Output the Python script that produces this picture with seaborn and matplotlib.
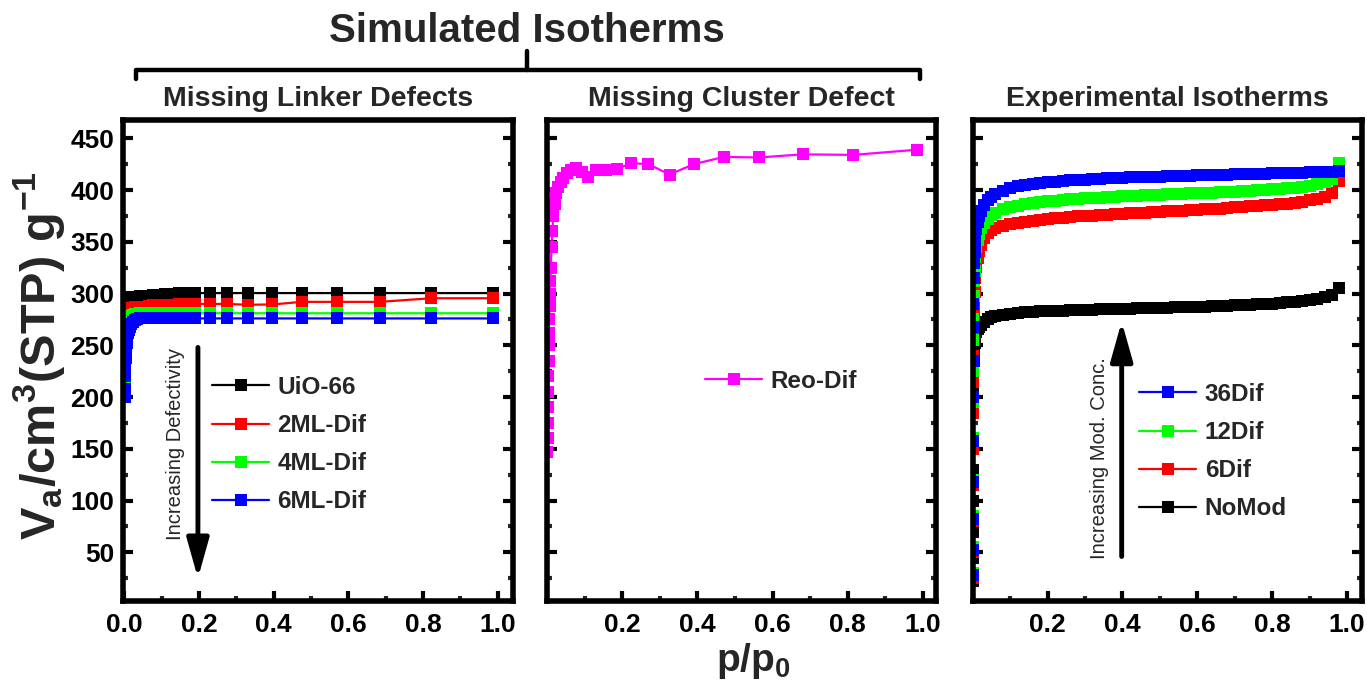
import matplotlib
matplotlib.use("Agg")
import matplotlib.pyplot as plt
import seaborn as sns
from matplotlib.lines import Line2D

# ---------------- data ----------------
# Missing linker defects (simulated)
P_ML = [0.0005, 0.001, 0.002, 0.003, 0.004, 0.005, 0.0065, 0.008, 0.01, 0.012,
        0.015, 0.018, 0.022, 0.028, 0.035, 0.042, 0.054, 0.065, 0.077, 0.092,
        0.108, 0.12, 0.131, 0.145, 0.157, 0.172, 0.189, 0.229, 0.274, 0.330,
        0.396, 0.475, 0.570, 0.684, 0.821, 0.987]
UIO66 = [280, 284, 288, 290.5, 292, 293, 294, 294.5, 295, 295.5,
         296, 296.3, 296.5, 296.8, 297, 297.2, 297.5, 298, 298.5, 299,
         299.5, 299.8, 300, 300.2, 300.4, 300.5, 300.5, 300.5, 300.5, 300.5,
         300.5, 300.5, 300.5, 300.5, 300.5, 300.5]
ML2 = [272, 276, 279, 281, 282, 283, 284, 284.5, 285, 285.5,
       286, 286.3, 286.5, 286.8, 287, 287.2, 287.5, 288, 288.5, 288.8,
       289, 289.2, 289.4, 289.6, 289.8, 289.9, 290, 290, 290, 289.2,
       289.5, 292, 292, 292, 295.5, 295.5]
ML4 = [205, 213, 235, 250, 258, 263, 267, 270, 273, 275,
       277, 278.5, 279.5, 280.2, 280.6, 281, 281, 281, 281, 281,
       281, 281, 281, 281, 281, 281, 281, 281, 281, 281,
       281, 281, 281, 281, 281, 281]
ML6 = [200, 208, 220, 230, 238, 245, 252, 257, 262, 265,
       268, 270.5, 272.5, 274.5, 275.5, 276, 276, 276, 276, 276,
       276, 276, 276, 276, 276, 276, 276, 276, 276, 276,
       276, 276, 276, 276, 276, 276]
ML_LABELS = ["UiO-66", "2ML-Dif", "4ML-Dif", "6ML-Dif"]

# Missing cluster defect (simulated)
P_REO = [0.001, 0.0015, 0.002, 0.0025, 0.003, 0.0035, 0.004, 0.0045, 0.005, 0.006,
         0.007, 0.008, 0.009, 0.01, 0.012, 0.014, 0.017, 0.02, 0.025, 0.03,
         0.036, 0.042, 0.054, 0.065, 0.077, 0.092, 0.108, 0.131, 0.157, 0.187,
         0.224, 0.270, 0.326, 0.390, 0.470, 0.563, 0.680, 0.815, 0.985]
REO = [147, 160, 175, 190, 205, 220, 235, 250, 262, 275,
       288, 300, 312, 325, 345, 360, 375, 387, 397, 403,
       408, 412, 416.5, 419, 421.5, 417, 413, 419.5, 419, 420.5,
       426, 425, 415, 425, 432, 431.5, 434.5, 434, 439]
REO_LABEL = "Reo-Dif"

# Experimental isotherms
P_EXP = [0.00002, 0.00005, 0.0001, 0.0002, 0.0004, 0.0007, 0.001, 0.0015, 0.002, 0.003,
         0.004, 0.005, 0.007, 0.01, 0.013, 0.017, 0.022, 0.03, 0.04, 0.05,
         0.06, 0.08, 0.10, 0.12, 0.14, 0.16, 0.18, 0.20, 0.22, 0.24,
         0.26, 0.28, 0.30, 0.32, 0.34, 0.36, 0.38, 0.40, 0.42, 0.44,
         0.46, 0.48, 0.50, 0.52, 0.54, 0.56, 0.58, 0.60, 0.62, 0.64,
         0.66, 0.68, 0.70, 0.72, 0.74, 0.76, 0.78, 0.80, 0.82, 0.84,
         0.86, 0.88, 0.90, 0.92, 0.94, 0.96, 0.978]
NOMOD = [22, 45, 70, 100, 130, 160, 185, 205, 220, 235,
         245, 252, 258, 263, 266, 268, 270, 273, 275.5, 277,
         278, 279.5, 280.5, 281.2, 281.8, 282.3, 282.7, 283, 283.3, 283.6,
         283.9, 284.1, 284.3, 284.5, 284.7, 284.9, 285.1, 285.3, 285.5, 285.6,
         285.8, 286, 286.2, 286.4, 286.6, 286.8, 287, 287.2, 287.4, 287.6,
         287.9, 288.2, 288.5, 288.8, 289.1, 289.5, 289.9, 290.4, 290.9, 291.5,
         292.2, 293, 294, 295.2, 296.8, 299, 305]
DIF6 = [25, 50, 80, 115, 150, 185, 215, 240, 260, 280,
        292, 302, 315, 326, 334, 341, 347, 354, 358.5, 361.5,
        363.5, 365.5, 367, 368.3, 369.5, 370.5, 371.4, 372.2, 372.9, 373.5,
        374, 374.5, 375, 375.4, 375.8, 376.2, 376.6, 377, 377.4, 377.8,
        378.2, 378.6, 379, 379.4, 379.8, 380.2, 380.6, 381, 381.4, 381.8,
        382.2, 382.7, 383.2, 383.7, 384.2, 384.7, 385.2, 385.8, 386.4, 387,
        387.8, 388.8, 390, 391.5, 393.5, 397, 409]
DIF12 = [30, 55, 85, 120, 160, 195, 225, 255, 275, 298,
         312, 322, 335, 345, 352, 358, 363, 368.5, 372.5, 375.5,
         378, 381.5, 383.5, 385, 386.3, 387.4, 388.3, 389.1, 389.8, 390.4,
         391, 391.5, 392, 392.4, 392.8, 393.2, 393.6, 394, 394.3, 394.6,
         394.9, 395.2, 395.5, 395.8, 396.1, 396.4, 396.7, 397, 397.3, 397.6,
         397.9, 398.2, 398.5, 398.9, 399.3, 399.7, 400.1, 400.6, 401.1, 401.7,
         402.4, 403.2, 404.2, 405.5, 407.5, 411, 426]
DIF36 = [28, 52, 82, 118, 158, 200, 235, 268, 290, 315,
         330, 340, 352, 362, 369, 375, 380, 385.5, 390, 393.5,
         396, 399.5, 402, 403.7, 405, 406, 406.9, 407.6, 408.2, 408.8,
         409.3, 409.8, 410.2, 410.6, 411, 411.3, 411.6, 411.9, 412.2, 412.5,
         412.7, 412.9, 413.1, 413.3, 413.5, 413.7, 413.9, 414.1, 414.3, 414.5,
         414.7, 414.9, 415.1, 415.3, 415.5, 415.7, 415.9, 416.1, 416.3, 416.5,
         416.7, 416.9, 417.1, 417.3, 417.5, 417.8, 418]
EXP_LABELS = ["NoMod", "6Dif", "12Dif", "36Dif"]

X_TICKS_FULL = [0.0, 0.2, 0.4, 0.6, 0.8, 1.0]
X_TICKS_PART = [0.2, 0.4, 0.6, 0.8, 1.0]
X_MINOR = [0.1, 0.3, 0.5, 0.7, 0.9]
Y_TICKS = [50, 100, 150, 200, 250, 300, 350, 400, 450]
Y_MINOR = [25, 75, 125, 175, 225, 275, 325, 375, 425]

PANEL_TITLES = ["Missing Linker Defects", "Missing Cluster Defect", "Experimental Isotherms"]
SUPER_TITLE = "Simulated Isotherms"
ARROW_TEXT_1 = "Increasing Defectivity"
ARROW_TEXT_3 = "Increasing Mod. Conc."

# ---------------- style ----------------
sns.set_theme(style="ticks")
plt.rcParams["font.family"] = ["Liberation Sans", "DejaVu Sans"]
plt.rcParams["font.weight"] = "bold"
plt.rcParams["mathtext.fontset"] = "custom"
plt.rcParams["mathtext.rm"] = "Liberation Sans:bold"
plt.rcParams["mathtext.bf"] = "Liberation Sans:bold"
plt.rcParams["mathtext.it"] = "Liberation Sans:bold"
plt.rcParams["legend.numpoints"] = 1

BLACK, RED, GREEN, BLUE, MAGENTA = "#000000", "#ff0000", "#00ff00", "#0000ff", "#ff00ff"

W, H = 1367, 685
fig = plt.figure(figsize=(W / 100, H / 100), dpi=100)


def fx(px):
    return px / W


def fy(py):
    return 1 - py / H


AX_LR = [(122.5, 512.7), (547, 936), (972.7, 1362)]
AX_TOP, AX_BOT = 119.7, 601
axes = [fig.add_axes([fx(l), fy(AX_BOT), fx(r) - fx(l), (AX_BOT - AX_TOP) / H]) for l, r in AX_LR]
XLIMS = [(-0.005, 1.04), (0.0, 1.035), (0.0, 1.04)]

LINE_KW = dict(marker="s", markersize=8, markeredgewidth=0, linewidth=1.6,
               estimator=None, sort=False)


def draw(ax, x, y, color, label):
    sns.lineplot(x=x, y=y, ax=ax, color=color, label=label, **LINE_KW)


ax1, ax2, ax3 = axes
for vals, col, lab in zip([UIO66, ML2, ML4, ML6], [BLACK, RED, GREEN, BLUE], ML_LABELS):
    draw(ax1, P_ML, vals, col, lab)
draw(ax2, P_REO, REO, MAGENTA, REO_LABEL)
for vals, col, lab in zip([NOMOD, DIF6, DIF12, DIF36], [BLACK, RED, GREEN, BLUE], EXP_LABELS):
    draw(ax3, P_EXP, vals, col, lab)

for i, ax in enumerate(axes):
    ax.set_xlim(*XLIMS[i])
    ax.set_ylim(3, 468)
    ax.set_xlabel("")
    ax.set_ylabel("")
    ax.set_xticks(X_TICKS_FULL if i == 0 else X_TICKS_PART)
    ax.set_xticks(X_MINOR, minor=True)
    ax.set_yticks(Y_TICKS)
    ax.set_yticks(Y_MINOR, minor=True)
    for s in ax.spines.values():
        s.set_visible(True)
        s.set_linewidth(4)
        s.set_color("black")
    ax.tick_params(which="major", direction="in", length=7, width=3, top=False,
                   right=True, left=True, bottom=True, labelsize=19, colors="black")
    ax.tick_params(axis="x", which="major", pad=9)
    ax.tick_params(axis="y", which="major", pad=6)
    ax.tick_params(which="minor", direction="in", length=3.5, width=3, top=False,
                   right=True, left=True, bottom=True)
    if i > 0:
        ax.tick_params(labelleft=False)
    ax.xaxis.set_major_formatter(matplotlib.ticker.FormatStrFormatter("%.1f"))
    ax.set_facecolor("white")

# legends
LEG_KW = dict(frameon=False, fontsize=17.5, handlelength=2.35, handletextpad=0.35,
              labelspacing=0.62, borderpad=0, borderaxespad=0, loc="upper left",
              bbox_transform=fig.transFigure)
h, l = ax1.get_legend_handles_labels()
ax1.legend(h, l, bbox_to_anchor=(fx(212), fy(376)), **LEG_KW)
h, l = ax2.get_legend_handles_labels()
ax2.legend(h, l, bbox_to_anchor=(fx(705), fy(370)), **LEG_KW)
h, l = ax3.get_legend_handles_labels()
ax3.legend(h[::-1], l[::-1], bbox_to_anchor=(fx(1139), fy(383)), **LEG_KW)

# arrows + texts
ARW = dict(arrowstyle="-|>,head_width=0.45,head_length=1.6", lw=3.5, color="black",
           mutation_scale=15, shrinkA=0, shrinkB=0)
ax1.annotate("", xy=(0.197, 25), xytext=(0.197, 248), arrowprops=ARW)
ax1.text(0.136, 155, ARROW_TEXT_1, rotation=90, ha="center", va="center",
         fontsize=14.5, fontweight="normal")
ax3.annotate("", xy=(0.398, 273), xytext=(0.398, 46), arrowprops=ARW)
ax3.text(0.340, 141, ARROW_TEXT_3, rotation=90, ha="center", va="center",
         fontsize=14.5, fontweight="normal")

# titles, bracket, axis labels
fig.text(fx(527), fy(31), SUPER_TITLE, ha="center", va="center", fontsize=29, fontweight="bold")
for (l, r), t in zip(AX_LR, PANEL_TITLES):
    fig.text(fx((l + r) / 2), fy(99), t, ha="center", va="center", fontsize=20.5, fontweight="bold")
fig.add_artist(Line2D([fx(136), fx(136), fx(920), fx(920)], [fy(79), fy(70), fy(70), fy(79)],
                      lw=3.2, color="black", solid_joinstyle="round", solid_capstyle="round"))
fig.add_artist(Line2D([fx(527), fx(527)], [fy(70), fy(51)], lw=3.2, color="black",
                      solid_capstyle="round"))
fig.text(fx(39), fy(356), r"$\mathbf{V_a/cm^3(STP)\ g^{-1}}$", rotation=90,
         ha="center", va="center", fontsize=35)
fig.text(fx(753), fy(661), r"$\mathbf{p/p_0}$", ha="center", va="center", fontsize=28)

fig.savefig("out.png", dpi=100, facecolor="white")
